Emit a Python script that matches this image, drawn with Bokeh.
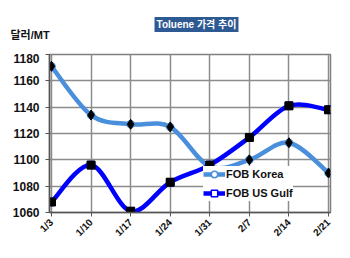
import math
from bokeh.plotting import figure
from bokeh.layouts import column
from bokeh.models import Range1d, FixedTicker, Label, Legend, LegendItem
from bokeh.embed import file_html
from bokeh.resources import INLINE

dates = ["1/3", "1/10", "1/17", "1/24", "1/31", "2/7", "2/14", "2/21"]
fob_korea = [1171, 1134, 1127, 1125, 1095, 1100, 1113, 1090]
fob_us_gulf = [1068, 1096, 1061, 1083, 1096, 1117, 1141, 1138]
y_ticks = [1060, 1080, 1100, 1120, 1140, 1160, 1180]

KOREA_C = "#4A8FDB"
GULF_C = "#0000FF"
FONT = "Liberation Sans, Arial, Noto Sans CJK KR"
KFONT = "Liberation Sans, Noto Sans CJK KR"

xs = list(range(len(dates)))

# ---- header strip (title box and unit label), pixel coordinates ----
head = figure(width=350, height=53, output_backend="svg", toolbar_location=None,
              x_range=Range1d(0, 350), y_range=Range1d(53, 0),
              x_axis_type=None, y_axis_type=None, min_border=0, title=None)
unit_x = 10
if "frame_align" in head.properties():
    head.frame_align = False
else:
    # frames are aligned with the chart below: map canvas pixels 49..330
    head.x_range = Range1d(49, 330)
    unit_x = 50
head.outline_line_color = None
head.background_fill_color = "white"
head.border_fill_color = "white"
head.add_layout(Label(x=196, y=24, text="Toluene 가격 추이", text_align="center",
                      text_baseline="middle", text_color="white", text_font=KFONT,
                      text_font_size="10px", text_font_style="bold",
                      background_fill_color="#2E5A94", padding=2))
head.add_layout(Label(x=unit_x, y=34, text="달러/MT", text_align="left",
                      text_baseline="middle", text_color="#111111", text_font=KFONT,
                      text_font_size="11px", text_font_style="bold"))

# ---- main chart ----
p = figure(width=350, height=205, output_backend="svg", toolbar_location=None,
           x_range=Range1d(-0.05, 7.05), y_range=Range1d(1060, 1180), title=None,
           min_border_left=49, min_border_right=20, min_border_top=1,
           min_border_bottom=46)
p.background_fill_color = "white"
p.border_fill_color = "white"
p.outline_line_color = "#7f7f7f"
p.outline_line_width = 1.5

for ax in (p.xaxis[0], p.yaxis[0]):
    ax.axis_line_color = "#555555"
    ax.axis_line_width = 1.5
    ax.major_tick_line_color = "#555555"
    ax.minor_tick_line_color = None
    ax.major_tick_in = 0
    ax.major_tick_out = 4
    ax.major_label_text_font = FONT
    ax.major_label_text_font_style = "bold"
    ax.major_label_text_color = "#111111"

p.yaxis.ticker = FixedTicker(ticks=y_ticks)
p.yaxis.major_label_text_font_size = "12px"
p.yaxis.major_label_standoff = 6
p.xaxis.ticker = FixedTicker(ticks=xs)
p.xaxis.major_label_overrides = {i: d for i, d in enumerate(dates)}
p.xaxis.major_label_orientation = math.pi / 4
p.xaxis.major_label_text_font_size = "10px"
p.xaxis.major_label_standoff = 4

p.xgrid.ticker = FixedTicker(ticks=xs)
p.ygrid.ticker = FixedTicker(ticks=y_ticks)
for g in (p.xgrid[0], p.ygrid[0]):
    g.grid_line_color = "#8c8c8c"
    g.grid_line_width = 1.5


def smooth(ys):
    n = len(ys)
    x0, y0, x1, y1, cx0, cy0, cx1, cy1 = [], [], [], [], [], [], [], []
    for i in range(n - 1):
        pm = max(i - 1, 0)
        pp = min(i + 2, n - 1)
        x0.append(xs[i]); y0.append(ys[i])
        x1.append(xs[i + 1]); y1.append(ys[i + 1])
        cx0.append(xs[i] + (xs[i + 1] - xs[pm]) / 6.0)
        cy0.append(ys[i] + (ys[i + 1] - ys[pm]) / 6.0)
        cx1.append(xs[i + 1] - (xs[pp] - xs[i]) / 6.0)
        cy1.append(ys[i + 1] - (ys[pp] - ys[i]) / 6.0)
    return dict(x0=x0, y0=y0, x1=x1, y1=y1, cx0=cx0, cy0=cy0, cx1=cx1, cy1=cy1)


rk = p.bezier(line_color=KOREA_C, line_width=4.5, **smooth(fob_korea))
rg = p.bezier(line_color=GULF_C, line_width=4.5, **smooth(fob_us_gulf))

wk = p.scatter(xs, fob_korea, marker="circle", size=7, fill_color="white",
               line_color=KOREA_C, line_width=1.5)
wg = p.scatter(xs, fob_us_gulf, marker="square", size=7, fill_color="white",
               line_color=GULF_C, line_width=1.5)

p.scatter(xs, fob_korea, marker="diamond", size=10, fill_color="black", line_color="black")
p.scatter(xs, fob_us_gulf, marker="square", size=8, fill_color="black", line_color="black")

legend = Legend(items=[LegendItem(label="FOB Korea", renderers=[rk, wk]),
                       LegendItem(label="FOB US Gulf", renderers=[rg, wg])],
                location=(154, 11), orientation="vertical")
legend.label_text_font = FONT
legend.label_text_font_style = "bold"
legend.label_text_font_size = "11px"
legend.label_text_color = "#111111"
legend.glyph_width = 22
legend.glyph_height = 16
legend.label_height = 16
legend.label_standoff = 1
legend.spacing = 3
legend.padding = 2
legend.margin = 0
legend.border_line_color = None
legend.background_fill_color = "white"
legend.background_fill_alpha = 1.0
p.add_layout(legend, "center")

layout = column(head, p, spacing=0)
open("out.html", "w").write(file_html(layout, INLINE))
